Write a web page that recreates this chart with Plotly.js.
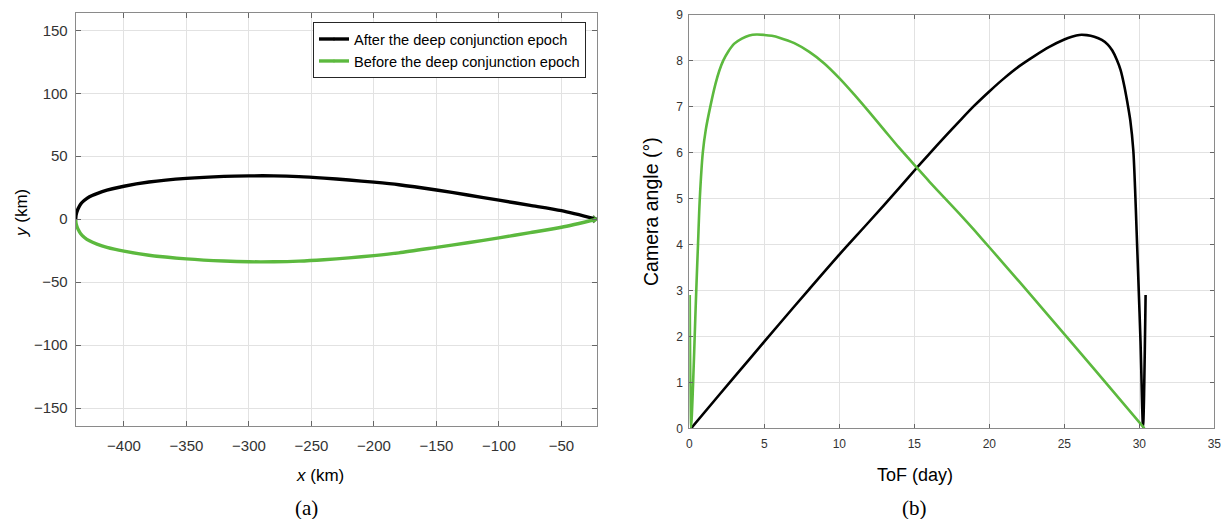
<!DOCTYPE html>
<html>
<head>
<meta charset="utf-8">
<script src="https://cdn.plot.ly/plotly-3.0.1.min.js"></script>
<style>html,body{margin:0;padding:0;background:#fff;}#chart{width:1223px;height:519px;}</style>
</head>
<body>
<div id="chart"></div>
<script>
// ---- Panel (a): relative trajectory (km) ----
const afterX  = [-438.6, -438.35, -437.6, -436.6, -434.6, -431.6, -427.6, -421.6, -413.6, -400, -380, -350, -320, -300, -280, -260, -240, -220, -200, -180, -150, -125, -100, -75, -50, -21.8];
const afterY  = [0, 3, 6, 8.5, 12, 15, 17.8, 20.3, 23, 26.2, 29.5, 32.4, 34, 34.4, 34.4, 33.8, 32.6, 31.1, 29.4, 27.4, 23.2, 19.2, 15.1, 11.0, 6.8, 0];
const beforeX = [-438.6, -438.35, -437.6, -436.6, -434.6, -431.6, -427.6, -421.6, -413.6, -400, -380, -350, -320, -300, -280, -260, -240, -220, -200, -180, -150, -125, -100, -75, -50, -21.8];
const beforeY = [0, -3, -5.8, -8.2, -11.5, -14.5, -17.2, -19.8, -22.4, -25.4, -28.6, -31.5, -33.2, -33.8, -33.8, -33.3, -32.2, -30.7, -28.9, -26.7, -22.4, -18.7, -14.8, -10.7, -6.4, 0];
const xTicksA = [-400, -350, -300, -250, -200, -150, -100, -50];
const yTicksA = [-150, -100, -50, 0, 50, 100, 150];

// ---- Panel (b): camera angle vs time of flight ----
const tofAfter    = [0.12, 2, 4, 6, 8, 10, 12, 14, 15.2, 16, 17, 18, 19, 20, 21, 22, 23, 24, 25, 25.5, 26, 26.5, 27, 27.5, 27.9, 28.2, 28.5, 28.75, 29.0, 29.2, 29.4, 29.6, 29.72, 29.82, 29.93, 30.08, 30.25, 30.42];
const angleAfter  = [0, 0.73, 1.5, 2.27, 3.03, 3.78, 4.5, 5.23, 5.68, 5.97, 6.33, 6.68, 7.02, 7.33, 7.62, 7.88, 8.1, 8.3, 8.46, 8.52, 8.56, 8.555, 8.52, 8.45, 8.35, 8.22, 8.02, 7.8, 7.45, 7.1, 6.7, 6.05, 5.2, 4.3, 3.3, 1.9, 0.03, 2.9];
const tofBefore   = [0.03, 0.12, 0.25, 0.4, 0.49, 0.58, 0.7, 0.9, 1.1, 1.4, 1.75, 2.0, 2.26, 2.6, 3.0, 3.5, 4.0, 4.49, 5.0, 5.5, 6, 7, 8, 9, 10, 11, 12, 13, 14, 15.2, 16, 17, 18, 19, 20, 22, 24, 26, 28, 30.34];
const angleBefore = [2.9, 0.02, 0.95, 2.4, 3.23, 4.0, 5.0, 6.0, 6.5, 7.0, 7.5, 7.78, 8.0, 8.2, 8.37, 8.48, 8.55, 8.57, 8.56, 8.54, 8.5, 8.38, 8.19, 7.94, 7.62, 7.26, 6.88, 6.49, 6.1, 5.66, 5.37, 5.02, 4.67, 4.31, 3.94, 3.19, 2.43, 1.67, 0.9, 0];
const xTicksB = [0, 5, 10, 15, 20, 25, 30, 35];
const yTicksB = [0, 1, 2, 3, 4, 5, 6, 7, 8, 9];

const seriesNames = ['After the deep conjunction epoch', 'Before the deep conjunction epoch'];
const BLACK = '#000000';
const GREEN = '#5cb93e';

const endMarker = (arr, s) => arr.map((_, i) => i === arr.length - 1 ? s : 0);

const traces = [
  {x: afterX, y: afterY, type: 'scatter', mode: 'lines+markers', name: seriesNames[0],
   line: {color: BLACK, width: 3.4, shape: 'spline', smoothing: 0.7},
   marker: {symbol: 'x-thin', size: endMarker(afterX, 7), color: BLACK, line: {color: BLACK, width: 1.5}},
   xaxis: 'x', yaxis: 'y'},
  {x: beforeX, y: beforeY, type: 'scatter', mode: 'lines+markers', name: seriesNames[1],
   line: {color: GREEN, width: 3.4, shape: 'spline', smoothing: 0.7},
   marker: {symbol: 'x-thin', size: endMarker(beforeX, 7), color: GREEN, line: {color: GREEN, width: 1.5}},
   xaxis: 'x', yaxis: 'y'},
  {x: tofAfter, y: angleAfter, type: 'scatter', mode: 'lines', showlegend: false,
   line: {color: BLACK, width: 2.6, shape: 'spline', smoothing: 0.8}, xaxis: 'x2', yaxis: 'y2'},
  {x: tofBefore, y: angleBefore, type: 'scatter', mode: 'lines', showlegend: false,
   line: {color: GREEN, width: 2.6, shape: 'spline', smoothing: 0.8}, xaxis: 'x2', yaxis: 'y2'}
];

const W = 1223, H = 519;
const px = v => v / W;
const py = v => 1 - v / H;

const axisCommon = {
  ticks: 'inside', ticklen: 5, tickwidth: 1, tickcolor: '#666',
  showline: true, linecolor: '#8a8a8a', linewidth: 1, mirror: 'ticks',
  showgrid: true, gridcolor: '#e2e2e2', gridwidth: 1, zeroline: false,
  automargin: false, fixedrange: true
};

const layout = {
  width: W, height: H,
  margin: {l: 0, r: 0, t: 0, b: 0},
  paper_bgcolor: '#ffffff', plot_bgcolor: '#ffffff',
  font: {family: '"Liberation Sans", Arial, sans-serif', color: '#262626'},
  showlegend: true,
  legend: {
    x: px(586), xanchor: 'right', y: py(22), yanchor: 'top',
    bordercolor: '#262626', borderwidth: 1, bgcolor: '#ffffff',
    font: {size: 14.6, color: '#000'}, tracegroupgap: 0
  },
  xaxis: Object.assign({}, axisCommon, {
    domain: [px(75.7), px(596.7)], range: [-438.6, -21.8], anchor: 'y',
    tickvals: xTicksA, ticklabelstandoff: 6,
    tickfont: {size: 15, color: '#333'}
  }),
  yaxis: Object.assign({}, axisCommon, {
    domain: [py(425.7), py(12.7)], range: [-164, 164], anchor: 'x',
    tickvals: yTicksA, ticklabelstandoff: 4,
    tickfont: {size: 15, color: '#333'}
  }),
  xaxis2: Object.assign({}, axisCommon, {
    domain: [px(689.3), px(1214.3)], range: [0, 35], anchor: 'y2',
    tickvals: xTicksB, ticklen: 4, ticklabelstandoff: 4,
    tickfont: {size: 12, color: '#333'}
  }),
  yaxis2: Object.assign({}, axisCommon, {
    domain: [py(428.3), py(14.7)], range: [0, 9], anchor: 'x2',
    tickvals: yTicksB, ticklen: 4, ticklabelstandoff: 3,
    tickfont: {size: 12, color: '#333'}
  }),
  annotations: [
    {text: '<i>x</i> (km)', xref: 'paper', yref: 'paper', x: px(320), y: py(475), xanchor: 'center', yanchor: 'middle', showarrow: false, font: {size: 17, color: '#000'}},
    {text: '<i>y</i> (km)', xref: 'paper', yref: 'paper', x: px(22), y: py(213), xanchor: 'center', yanchor: 'middle', textangle: -90, showarrow: false, font: {size: 17, color: '#000'}},
    {text: 'ToF (day)', xref: 'paper', yref: 'paper', x: px(915), y: py(475), xanchor: 'center', yanchor: 'middle', showarrow: false, font: {size: 18, color: '#000'}},
    {text: 'Camera angle (°)', xref: 'paper', yref: 'paper', x: px(651), y: py(212), xanchor: 'center', yanchor: 'middle', textangle: -90, showarrow: false, font: {size: 19.5, color: '#000'}},
    {text: '(a)', xref: 'paper', yref: 'paper', x: px(306), y: py(508), xanchor: 'center', yanchor: 'middle', showarrow: false, font: {size: 21, color: '#000', family: '"Liberation Serif", "DejaVu Serif", serif'}},
    {text: '(b)', xref: 'paper', yref: 'paper', x: px(914), y: py(508), xanchor: 'center', yanchor: 'middle', showarrow: false, font: {size: 21, color: '#000', family: '"Liberation Serif", "DejaVu Serif", serif'}}
  ]
};

Plotly.newPlot('chart', traces, layout, {displayModeBar: false, staticPlot: true});
</script>
</body>
</html>
